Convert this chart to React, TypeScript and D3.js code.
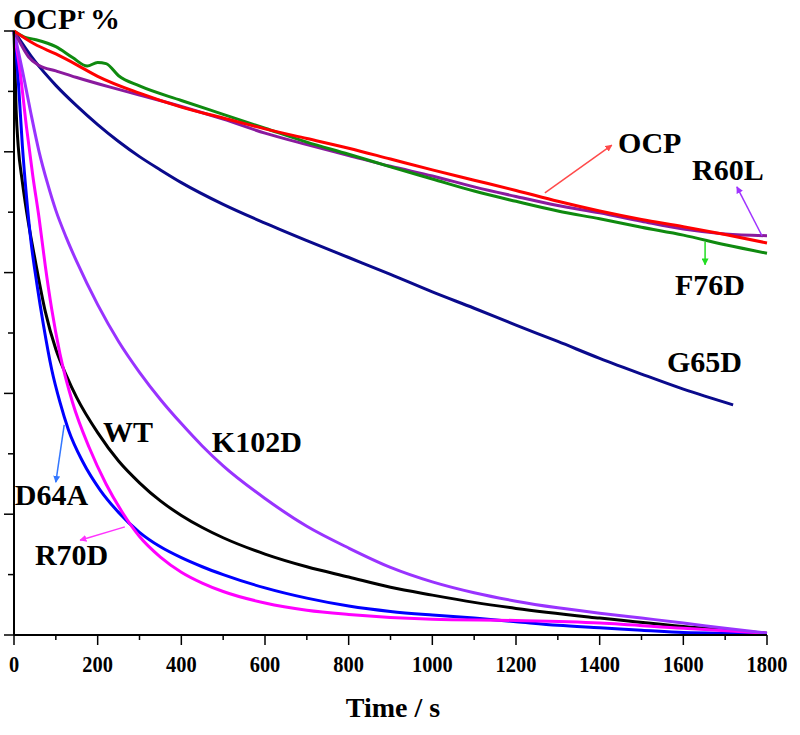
import { useEffect, useRef } from 'react';
import * as d3 from 'd3';

type Pt = [number, number];

// time (s), OCPr (%)
const ocp: Pt[] = [[0, 100], [50, 97.8], [100, 96.2], [150, 94.4], [200, 92.5], [300, 89.7], [400, 87.4], [500, 85.6], [600, 83.8], [700, 82.2], [800, 80.6], [900, 78.8], [1000, 77], [1100, 75.3], [1200, 73.6], [1300, 71.8], [1400, 70.2], [1500, 68.8], [1600, 67.6], [1700, 66.3], [1800, 64.9]];
const f76d: Pt[] = [[0, 100], [25, 99], [50, 98.6], [100, 97.4], [140, 95.6], [175, 94.2], [200, 94.8], [220, 94.6], [250, 92.6], [300, 90.9], [400, 88.5], [500, 86.2], [600, 83.9], [700, 81.6], [800, 79.6], [900, 77.5], [1000, 75.5], [1100, 73.5], [1200, 71.8], [1300, 70.2], [1400, 68.9], [1500, 67.5], [1600, 66.2], [1700, 64.6], [1800, 63.2]];
const r60l: Pt[] = [[0, 100], [15, 98], [35, 95.7], [60, 94.3], [100, 93.4], [150, 92.3], [230, 90.7], [300, 89.4], [400, 87.5], [500, 85.4], [600, 83.1], [700, 81.2], [800, 79.4], [900, 77.6], [1000, 76], [1100, 74.2], [1200, 72.6], [1300, 71.1], [1400, 69.9], [1500, 68.5], [1600, 67.2], [1700, 66.4], [1800, 66.1]];
const g65d: Pt[] = [[0, 100], [50, 95], [100, 91], [150, 87.6], [200, 84.5], [250, 81.7], [300, 79.2], [350, 77], [400, 74.9], [500, 71.3], [600, 68.2], [700, 65.3], [800, 62.5], [900, 59.7], [1000, 56.8], [1100, 54.1], [1200, 51.3], [1300, 48.6], [1400, 45.8], [1500, 43.2], [1600, 40.7], [1719, 38.1]];
const k102d: Pt[] = [[0, 100], [20, 93.5], [40, 86.5], [60, 80], [80, 74.8], [100, 70.3], [125, 65.8], [150, 61.8], [200, 54.7], [250, 48.6], [300, 43.5], [350, 39], [400, 35], [450, 31.3], [500, 28], [600, 22.6], [700, 18], [800, 14.4], [900, 11.2], [1000, 8.8], [1100, 7], [1200, 5.6], [1300, 4.5], [1400, 3.6], [1500, 2.8], [1600, 2], [1700, 1.1], [1800, 0.3]];
const wt: Pt[] = [[0, 100], [5, 87], [10, 81], [20, 75], [35, 68], [50, 62.3], [75, 53.5], [100, 47.3], [125, 43], [150, 39.3], [200, 33.5], [250, 28.8], [300, 25.2], [350, 22.2], [400, 19.8], [450, 17.8], [500, 16.1], [600, 13.4], [700, 11.3], [800, 9.6], [900, 7.9], [1000, 6.6], [1100, 5.4], [1200, 4.4], [1400, 2.8], [1600, 1.4], [1800, 0.3]];
const d64a: Pt[] = [[0, 100], [10, 92], [20, 81], [30, 72.5], [40, 65.5], [55, 58], [70, 51.5], [90, 44], [110, 38.5], [130, 34], [165, 28.6], [206, 24], [250, 20.3], [300, 17], [350, 14.6], [400, 12.8], [450, 11.3], [500, 10], [600, 7.8], [700, 6.1], [800, 4.8], [900, 3.9], [1000, 3.3], [1100, 2.8], [1200, 2.2], [1300, 1.6], [1400, 1.2], [1500, 0.8], [1600, 0.4], [1800, 0.2]];
const r70d: Pt[] = [[0, 100], [15, 93], [30, 84], [45, 76], [60, 69], [75, 61], [90, 54], [110, 46.5], [140, 38.5], [180, 31], [220, 25], [260, 20.2], [300, 16.3], [350, 12.9], [400, 10.4], [450, 8.6], [500, 7.2], [600, 5.3], [700, 4.1], [800, 3.4], [1000, 2.6], [1200, 2.4], [1400, 2], [1600, 1.1], [1800, 0.3]];

const series = [
  { name: 'WT', color: '#000000', data: wt },
  { name: 'D64A', color: '#0000ff', data: d64a },
  { name: 'R70D', color: '#ff00ff', data: r70d },
  { name: 'K102D', color: '#9933ff', data: k102d },
  { name: 'G65D', color: '#0a0a8c', data: g65d },
  { name: 'R60L', color: '#8a1a9e', data: r60l },
  { name: 'F76D', color: '#0f8a0f', data: f76d },
  { name: 'OCP', color: '#ff0000', data: ocp },
];

const xTicks = [0, 200, 400, 600, 800, 1000, 1200, 1400, 1600, 1800];

// label position [t, v]; optional arrow from -> to in data units
const labels: { text: string; at: Pt; arrow?: [Pt, Pt]; arrowColor?: string }[] = [
  { text: 'OCP', at: [1444, 79.8], arrow: [[1269, 73.2], [1429, 81.1]], arrowColor: '#ff4a4a' },
  { text: 'R60L', at: [1621, 75.3], arrow: [[1788, 66.1], [1728, 74.2]], arrowColor: '#a033ff' },
  { text: 'F76D', at: [1580, 56.3], arrow: [[1652, 65.1], [1652, 61.3]], arrowColor: '#22dd22' },
  { text: 'G65D', at: [1561, 43.5] },
  { text: 'K102D', at: [473, 30.3] },
  { text: 'WT', at: [213, 32] },
  { text: 'D64A', at: [2, 21.5], arrow: [[120, 34.8], [100, 25.3]], arrowColor: '#3377ff' },
  { text: 'R70D', at: [50, 11.6], arrow: [[265, 17.9], [158, 15.7]], arrowColor: '#ff33ff' },
];

export default function App() {
  const svgRef = useRef<SVGSVGElement>(null);

  useEffect(() => {
    if (!svgRef.current) return;
    const svg = d3.select(svgRef.current);
    svg.selectAll('*').remove();

    const font = '"Liberation Serif", "Times New Roman", serif';

    const x = d3.scaleLinear().domain([0, 1800]).range([14, 767]);
    const y = d3.scaleLinear().domain([0, 100]).range([635, 31]);

    const defs = svg.append('defs');
    labels.filter(l => l.arrow).forEach((l, i) => {
      defs.append('marker')
        .attr('id', `ah${i}`)
        .attr('viewBox', '0 0 10 10')
        .attr('refX', 9)
        .attr('refY', 5)
        .attr('markerWidth', 7)
        .attr('markerHeight', 7)
        .attr('markerUnits', 'userSpaceOnUse')
        .attr('orient', 'auto')
        .append('path')
        .attr('d', 'M0,0 L10,5 L0,10 z')
        .attr('fill', l.arrowColor!);
    });

    // curves
    const line = d3.line<Pt>()
      .x(d => x(d[0]))
      .y(d => y(d[1]))
      .curve(d3.curveMonotoneX);

    series.forEach(s => {
      svg.append('path')
        .datum(s.data)
        .attr('d', line)
        .attr('fill', 'none')
        .attr('stroke', s.color)
        .attr('stroke-width', 3)
        .attr('stroke-linejoin', 'round');
    });

    // axes
    const axes = svg.append('g').attr('stroke', '#000');
    axes.append('line')
      .attr('x1', x(0)).attr('x2', x(0))
      .attr('y1', y(100)).attr('y2', y(0))
      .attr('stroke-width', 2);
    axes.append('line')
      .attr('x1', x(0)).attr('x2', x(1800))
      .attr('y1', y(0)).attr('y2', y(0))
      .attr('stroke-width', 2);

    d3.range(0, 101, 10).forEach(v => {
      const len = v % 20 === 0 ? 10 : 6;
      axes.append('line')
        .attr('x1', x(0) - len).attr('x2', x(0))
        .attr('y1', y(v)).attr('y2', y(v))
        .attr('stroke-width', 1.5);
    });
    d3.range(0, 1801, 100).forEach(t => {
      const len = t % 200 === 0 ? 10 : 5;
      axes.append('line')
        .attr('x1', x(t)).attr('x2', x(t))
        .attr('y1', y(0)).attr('y2', y(0) + len)
        .attr('stroke-width', 1.5);
    });

    xTicks.forEach(t => {
      svg.append('text')
        .attr('transform', `translate(${x(t)},672) scale(0.85,1)`)
        .attr('text-anchor', 'middle')
        .attr('font-family', font)
        .attr('font-weight', 'bold')
        .attr('font-size', 24)
        .text(t);
    });

    svg.append('text')
      .attr('x', 393)
      .attr('y', 717)
      .attr('text-anchor', 'middle')
      .attr('font-family', font)
      .attr('font-weight', 'bold')
      .attr('font-size', 28)
      .text('Time / s');

    const yTitle = svg.append('text')
      .attr('x', 13)
      .attr('y', 29)
      .attr('font-family', font)
      .attr('font-weight', 'bold')
      .attr('font-size', 30);
    yTitle.append('tspan').text('OCP');
    yTitle.append('tspan').attr('font-size', 17).attr('dy', -10).attr('dx', 1).text('r');
    yTitle.append('tspan').attr('dy', 10).attr('dx', 5).text('%');

    // annotations
    let ai = 0;
    labels.forEach(l => {
      if (l.arrow) {
        const [a, b] = l.arrow;
        svg.append('line')
          .attr('x1', x(a[0])).attr('y1', y(a[1]))
          .attr('x2', x(b[0])).attr('y2', y(b[1]))
          .attr('stroke', l.arrowColor!)
          .attr('stroke-width', 1.5)
          .attr('marker-end', `url(#ah${ai})`);
        ai++;
      }
      svg.append('text')
        .attr('x', x(l.at[0]))
        .attr('y', y(l.at[1]))
        .attr('font-family', font)
        .attr('font-weight', 'bold')
        .attr('font-size', 30)
        .text(l.text);
    });
  }, []);

  return (
    <svg
      ref={svgRef}
      width={800}
      height={735}
      style={{ position: 'absolute', left: 0, top: 0, background: '#fff' }}
    />
  );
}
